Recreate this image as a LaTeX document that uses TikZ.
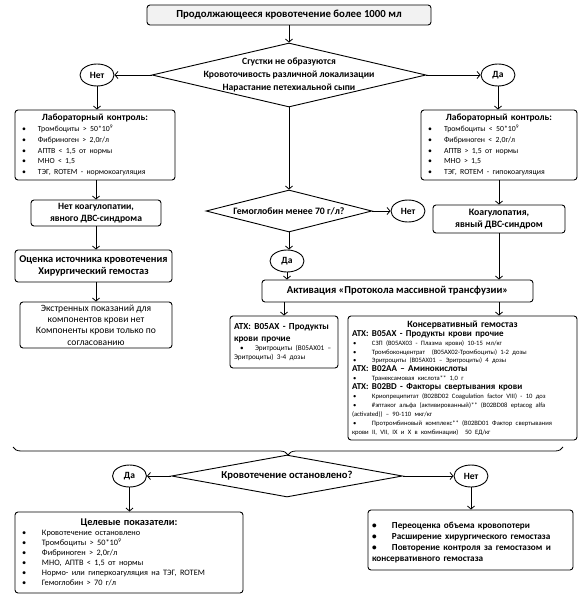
\documentclass[tikz,border=0pt]{standalone}
\usepackage{fontspec}
\setmainfont{Carlito}
\usetikzlibrary{shapes.geometric,arrows.meta,decorations.pathreplacing}
\definecolor{topgray}{HTML}{F2F2F2}
\newlength\itmind
\newlength\bulx
\newcommand{\itm}[1]{\par\noindent\hangindent=\itmind\hangafter=1\makebox[\itmind][l]{\hspace{\bulx}\textbullet}#1}
\tikzset{
  box/.style={draw, line width=0.9pt, rounded corners=3pt, inner sep=0pt, inner xsep=4pt},
  ell/.style={draw, ellipse, line width=0.9pt, minimum width=34pt, minimum height=22pt, inner sep=0pt, font=\bfseries\fontsize{9.5}{10}\selectfont},
  dia/.style={draw, diamond, line width=0.9pt, inner sep=0pt},
  arr/.style={line width=0.8pt, -{Straight Barb[length=3pt,width=7pt]}},
  ln/.style={line width=0.8pt}
}
\begin{document}
\begin{tikzpicture}[x=1pt,y=-1pt]
\useasboundingbox (0,0) rectangle (581,599);
% top
\node[box, fill=topgray, minimum width=284pt, minimum height=20pt, font=\bfseries\fontsize{10.8}{12}\selectfont] (top) at (289,15) {Продолжающееся кровотечение более 1000 мл};
% decision 1
\node[dia, minimum width=274pt, minimum height=64pt] (d1) at (289,75) {};
\node[font=\bfseries\fontsize{9.6}{13}\selectfont, align=center, inner sep=0pt] (d1t) at (289,75) {Сгустки не образуются\\Кровоточивость различной локализации\\Нарастание петехиальной сыпи};
\node[ell] (no1) at (97,75) {Нет};
\node[ell] (yes1) at (498,75) {Да};
% lab boxes
\node[box, minimum width=160pt, minimum height=70pt, text width=152pt] (lab1) at (95,145) {%
  \setlength\itmind{19pt}\setlength\bulx{3pt}%
  {\centering\bfseries\fontsize{9.5}{12}\selectfont Лабораторный контроль:\par}%
  \fontsize{7.8}{10.8}\selectfont\raggedright
  \itm{Тромбоциты > 50*10\textsuperscript{9}}
  \itm{Фибриноген > 2,0г/л}
  \itm{АПТВ < 1,5 от нормы}
  \itm{МНО < 1,5}
  \itm{ТЭГ, ROTEM - нормокоагуляция}\par};
\node[box, minimum width=156pt, minimum height=70pt, text width=148pt] (lab2) at (499,145) {%
  \setlength\itmind{19pt}\setlength\bulx{3pt}%
  {\centering\bfseries\fontsize{9.5}{12}\selectfont Лабораторный контроль:\par}%
  \fontsize{7.8}{10.8}\selectfont\raggedright
  \itm{Тромбоциты < 50*10\textsuperscript{9}}
  \itm{Фибриноген < 2,0г/л}
  \itm{АПТВ > 1,5 от нормы}
  \itm{МНО > 1,5}
  \itm{ТЭГ, ROTEM - гипокоагуляция}\par};
% left column
\node[box, minimum width=130pt, minimum height=26pt, align=center, font=\bfseries\fontsize{9.6}{11.5}\selectfont] (nocoag) at (96,213) {Нет коагулопатии,\\явного ДВС-синдрома};
\node[box, minimum width=157pt, minimum height=32pt, inner xsep=2pt, align=center, font=\bfseries\fontsize{10.4}{12.5}\selectfont] (ocenka) at (93.5,266) {Оценка источника кровотечения\\Хирургический гемостаз};
\node[box, minimum width=152pt, minimum height=46pt, align=center, font=\fontsize{9.6}{11.2}\selectfont] (extr) at (96,325) {Экстренных показаний для\\компонентов крови нет\\Компоненты крови только по\\согласованию};
% center
\node[dia, minimum width=166pt, minimum height=42pt] (d2) at (289,211) {};
\node[font=\bfseries\fontsize{9.8}{10}\selectfont, inner sep=0pt] (d2t) at (289,211) {Гемоглобин менее 70 г/л?};
\node[ell] (no2) at (408,211) {Нет};
\node[ell] (yes2) at (287,261) {Да};
% right column
\node[box, minimum width=132pt, minimum height=28pt, align=center, font=\bfseries\fontsize{9.8}{11.5}\selectfont] (coag) at (499,219) {Коагулопатия,\\явный ДВС-синдром};
\node[box, minimum width=271pt, minimum height=22pt, font=\bfseries\fontsize{10.6}{12}\selectfont] (activ) at (397.5,291) {Активация «Протокола массивной трансфузии»};
\node[box, minimum width=108pt, minimum height=52pt, text width=100pt, inner xsep=4pt] (atx1) at (284,342) {%
  \raggedright
  {\bfseries\fontsize{9.2}{12}\selectfont ATX: B05AX - Продукты\\крови прочие\par}%
  \fontsize{7.2}{8.8}\selectfont\setlength\itmind{21pt}\setlength\bulx{6pt}%
  \itm{Эритроциты (B05AX01 –\\Эритроциты) 3-4 дозы}\par};
\node[box, minimum width=229pt, minimum height=124pt, text width=221pt, inner xsep=4pt] (cons) at (462.5,378) {%
  {\centering\bfseries\fontsize{9.6}{10}\selectfont Консервативный гемостаз\par}%
  \raggedright\setlength\itmind{20pt}\setlength\bulx{1pt}%
  \fontsize{6.6}{8.9}\selectfont
  {\bfseries\fontsize{9}{8.9}\selectfont ATX: B05AX - Продукты крови прочие\par}%
  \itm{СЗП (B05AX03 - Плазма крови) 10-15 мл/кг}
  \itm{Тромбоконцентрат\ \ (B05AX02-Тромбоциты) 1-2 дозы}
  \itm{Эритроциты (B05AX01 – Эритроциты) 4 дозы}\par
  {\bfseries\fontsize{9}{8.9}\selectfont ATX: B02AA – Аминокислоты\par}%
  \itm{Транексамовая кислота** 1,0 г}\par
  {\bfseries\fontsize{9}{8.9}\selectfont ATX: B02BD - Факторы свертывания крови\par}%
  \itm{Криопреципитат (B02BD02 Coagulation factor VIII) - 10 доз}
  \itm{\#эптаког альфа (активированный)** (B02BD08 eptacog alfa\\(activated)) – 90-110 мкг/кг}
  \itm{Протромбиновый комплекс** (B02BD01 Фактор свертывания\\крови II, VII, IX и X в комбинации)\ \ 50 ЕД/кг}\par};
% bottom decision
\node[dia, minimum width=231pt, minimum height=42pt] (d3) at (287,476) {};
\node[font=\bfseries\fontsize{10.6}{12}\selectfont, inner sep=0pt] (d3t) at (287,476) {Кровотечение остановлено?};
\node[ell] (yes3) at (129.5,476) {Да};
\node[ell] (no3) at (471,476) {Нет};
\node[box, minimum width=228pt, minimum height=81pt, text width=220pt] (target) at (129,552.5) {%
  \setlength\itmind{23pt}\setlength\bulx{3pt}%
  {\centering\bfseries\fontsize{10.3}{12}\selectfont Целевые показатели:\par}%
  \fontsize{8.3}{10}\selectfont\raggedright
  \itm{Кровотечение остановлено}
  \itm{Тромбоциты > 50*10\textsuperscript{9}}
  \itm{Фибриноген > 2,0г/л}
  \itm{МНО, АПТВ < 1,5 от нормы}
  \itm{Нормо- или гиперкоагуляция на ТЭГ, ROTEM}
  \itm{Гемоглобин > 70 г/л}\par};
\node[box, minimum width=205pt, minimum height=60pt, text width=197pt] (rbox) at (470.5,540) {%
  \setlength\itmind{20pt}\setlength\bulx{0pt}%
  \bfseries\fontsize{9.2}{11}\selectfont\raggedright
  \itm{Переоценка объема кровопотери}
  \itm{Расширение хирургического гемостаза}
  \itm{Повторение контроля за гемостазом и\\консервативного гемостаза}\par};
% connectors
\draw[arr] (top.south) -- (d1.north);
\draw[arr] (d1.west) -- (no1);
\draw[arr] (d1.east) -- (yes1);
\draw[arr] (no1) -- (no1 |- lab1.north);
\draw[arr] (nocoag.north |- lab1.south) -- (nocoag.north);
\draw[arr] (nocoag.south) -- (nocoag.south |- ocenka.north);
\draw[arr] (extr.north |- ocenka.south) -- (extr.north);
\draw[arr] (yes1) -- (yes1 |- lab2.north);
\draw[arr] (lab2.south) -- (coag.north);
\draw[arr] (coag.south) -- (coag.south |- activ.north);
\draw[arr] (d1.south) -- (d2.north);
\draw[arr] (d2.east) -- (no2);
\draw[arr] (d2.south) -- (d2.south |- yes2.north);
\draw[arr] (yes2) -- (yes2 |- activ.north);
\draw[arr] (atx1.north |- activ.south) -- (atx1.north);
\draw[arr] (coag.south |- activ.south) -- (coag.south |- cons.north);
\draw[ln, decorate, decoration={brace, amplitude=8pt, mirror}] (13,447) -- (563,447);
\draw[arr] (d3.west) -- (yes3);
\draw[arr] (d3.east) -- (no3);
\draw[arr] (yes3) -- (yes3 |- target.north);
\draw[arr] (no3) -- (no3 |- rbox.north);
\end{tikzpicture}
\end{document}
